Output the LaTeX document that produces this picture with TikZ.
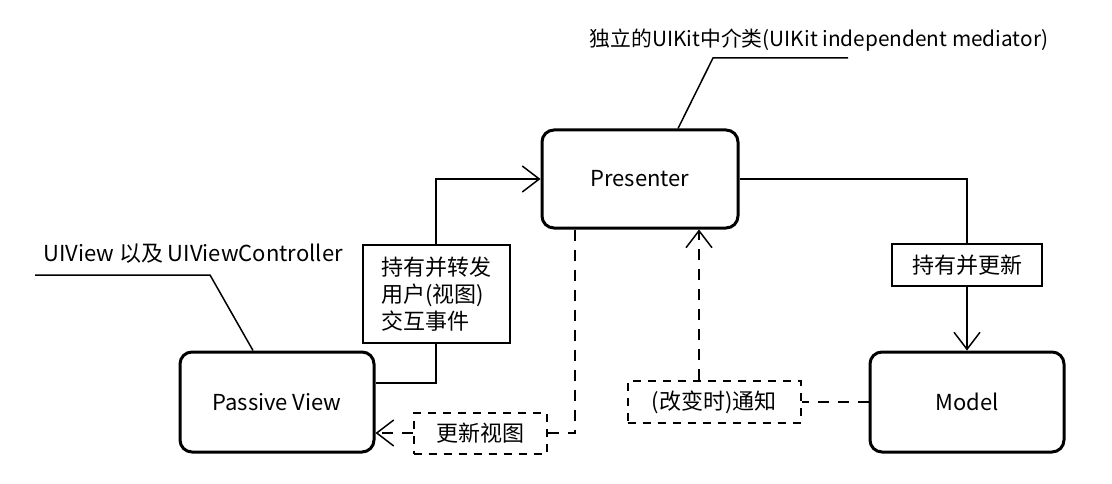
\documentclass[tikz,border=0pt]{standalone}
\usepackage{fontspec}
\setmainfont{Noto Sans CJK SC}
\usetikzlibrary{positioning, arrows.meta}

\begin{document}
\begin{tikzpicture}[
    x=1pt, y=-1pt,
    >={Straight Barb[length=17pt,width=26pt]},
    line width=1.5pt,
    font=\fontsize{22}{27}\selectfont,
    role/.style={
        draw,
        line width=3pt,
        rounded corners=12pt,
        minimum width=194pt,
        minimum height=100pt,
        inner sep=0pt
    },
    tag/.style={draw, line width=2pt, inner sep=0pt, align=left},
    dtag/.style={tag, dash pattern=on 8pt off 7pt},
    dline/.style={dash pattern=on 11pt off 9pt}
]
\useasboundingbox (0,0) rectangle (1112,484);

\node[role, minimum width=196pt, minimum height=98pt] (presenter) at (640,179) {Presenter};
\node[role] (passive) at (277,402) {Passive View};
\node[role] (model) at (967,402) {Model};

\node[tag, minimum width=147pt, minimum height=98pt] (forward) at (436,294) {持有并转发\\用户(视图)\\交互事件};
\node[tag, minimum width=150pt, minimum height=42pt] (hold) at (967,265) {持有并更新};
\node[dtag, minimum width=133pt, minimum height=41pt] (refresh) at (480,433) {更新视图};
\node[dtag, minimum width=173pt, minimum height=42pt] (notify) at (714,402) {(改变时)通知};

\node[font=\fontsize{20.8}{25}\selectfont] (mediator) at (819,40) {独立的UIKit中介类(UIKit independent mediator)};
\node (viewnote) at (193,254) {UIView 以及 UIViewController};

\coordinate (medbend) at (713,58);
\coordinate (medend) at (848,58);
\coordinate (vnbend) at (210,275);
\coordinate (vnend) at (35,275);
\coordinate (notifytop) at ([xshift=-15pt]notify.north);

\draw ([xshift=38pt]presenter.north) -- (medbend) -- (medend);
\draw ([xshift=-24pt]passive.north) -- (vnbend) -- (vnend);

\draw ([yshift=19pt]passive.east) -| (forward.south);
\draw[->] (forward.north) |- (presenter.west);
\draw (presenter.east) -| (hold.north);
\draw[->] (hold.south) -- (model.north);

\draw[dline] ([xshift=-65pt]presenter.south) |- (refresh.east);
\draw[dline, ->] (refresh.west) -- (refresh.west -| passive.east);
\draw[dline] (model.west) -- (notify.east);
\draw[dline, ->] (notifytop) -- (notifytop |- presenter.south);

\end{tikzpicture}
\end{document}
